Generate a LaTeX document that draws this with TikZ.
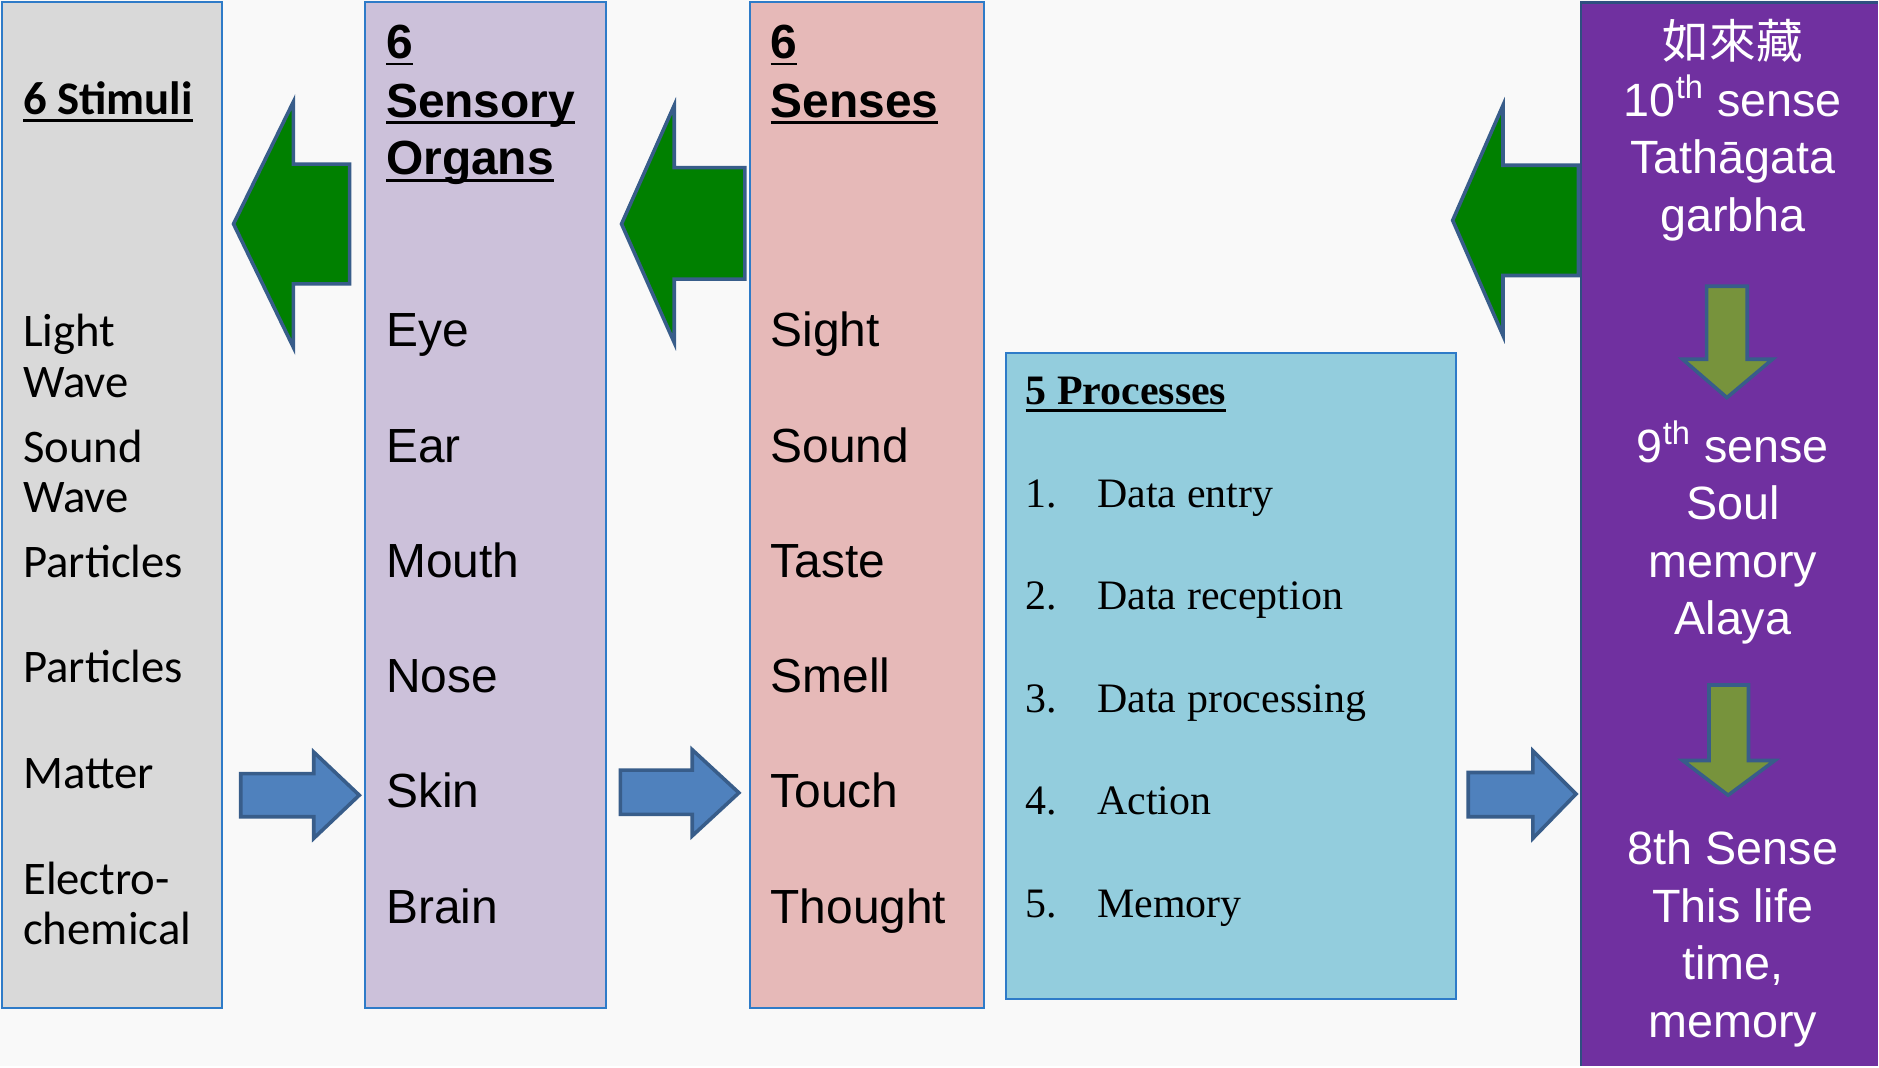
\documentclass[tikz,border=0pt]{standalone}
\usepackage{fontspec}
\usepackage{xcolor}
\setmainfont{Liberation Sans}
\newfontfamily\calibri{Carlito}
\newfontfamily\procfont{Liberation Serif}
\newfontfamily\cjk{Noto Sans CJK TC}

\definecolor{page}{HTML}{F9F9F9}
\definecolor{boxblue}{HTML}{2E7BC8}
\definecolor{stimgray}{HTML}{D9D9D9}
\definecolor{organlilac}{HTML}{CCC1DA}
\definecolor{sensepink}{HTML}{E6B9B8}
\definecolor{procblue}{HTML}{93CDDD}
\definecolor{mindpurple}{HTML}{7030A0}
\definecolor{purpleedge}{HTML}{2F4F80}
\definecolor{arrowedge}{HTML}{385D8A}
\definecolor{leftgreen}{HTML}{008000}
\definecolor{rightblue}{HTML}{4F81BD}
\definecolor{downolive}{HTML}{77933C}

% heading rule under a title line
\newcommand{\titleline}[1]{\setbox0=\hbox{#1}\rlap{\rule[-2.8pt]{\wd0}{1.1pt}}\box0}

\usetikzlibrary{positioning}

\begin{document}
\begin{tikzpicture}[x=0.5pt, y=-0.5pt, inner sep=0pt]
		\tikzstyle{every node}=[align=left, anchor=base west]
		\tikzstyle{column}=[draw=boxblue, line width=0.8pt]
		\tikzstyle{greenarrow}=[draw=arrowedge, fill=leftgreen, line width=1.5pt]
		\tikzstyle{bluearrow}=[draw=arrowedge, fill=rightblue, line width=1.5pt]
		\tikzstyle{downarrow}=[draw=arrowedge, fill=downolive, line width=1.5pt]
		\tikzstyle{calib}=[font=\calibri\fontsize{19.5}{21.5}\selectfont]
		\tikzstyle{arial}=[font=\fontsize{20}{24}\selectfont]
		\tikzstyle{roman}=[font=\procfont\fontsize{17.5}{21}\selectfont]
		\tikzstyle{purpletext}=[font=\fontsize{19.5}{24}\selectfont, text=white, anchor=base]

			\fill[page] (0,0) rectangle (1568,890);

			% the five columns
			\draw[column, fill=stimgray] (2,2) rectangle (185,842);
			\draw[column, fill=organlilac] (305,2) rectangle (506,842);
			\draw[column, fill=sensepink] (626,2) rectangle (822,842);
			\draw[column, fill=procblue] (840,295) rectangle (1216,834);
			\fill[mindpurple] (1320,2) rectangle (1568,890);
			\draw[purpleedge, line width=1pt] (1320,890) -- (1320,2) -- (1568,2);

			% stimuli
			\node[calib] (stimtitle) at (19,96) {\bfseries\titleline{6 Stimuli}};
			\foreach \y/\t [count=\i] in {289/Light, 332/Wave, 386/Sound, 428/Wave, 482/Particles, 570/Particles, 658/Matter, 747/Electro-, 789/chemical}
				\node[calib] (stim\i) at (19,\y) {\t};

			% sensory organs
			\node[arial] (organhead1) at (322,49) {\bfseries\titleline{6}};
			\node[arial] (organhead2) at (322,98) {\bfseries\titleline{Sensory}};
			\node[arial] (organhead3) at (322,146) {\bfseries\titleline{Organs}};
			\foreach \y/\t [count=\i] in {289/Eye, 386/Ear, 482/Mouth, 578/Nose, 674/Skin, 771/Brain}
				\node[arial] (organ\i) at (322,\y) {\t};

			% senses
			\node[arial] (sensehead1) at (643,49) {\bfseries\titleline{6}};
			\node[arial] (sensehead2) at (643,98) {\bfseries\titleline{Senses}};
			\foreach \y/\t [count=\i] in {289/Sight, 386/Sound, 482/Taste, 578/Smell, 674/Touch, 771/Thought}
				\node[arial] (sense\i) at (643,\y) {\t};

			% processes
			\node[roman] (proctitle) at (856,338) {\bfseries\titleline{5 Processes}};
			\foreach \y/\t [count=\i] in {424/Data entry, 509/Data reception, 595/Data processing, 680/Action, 766/Memory} {
				\node[roman] (num\i) at (856,\y) {\i.};
				\node[roman] (proc\i) at (916,\y) {\t};
			}

			% consciousness column
			\foreach \y/\t [count=\i] in {49/{\cjk 如來藏}, 97/{10\textsuperscript{th} sense}, 145/{Tathāgata}, 193/{garbha},
					386/{9\textsuperscript{th} sense}, 434/{Soul}, 482/{memory}, 530/{Alaya},
					722/{8th Sense}, 770/{This life}, 818/{time,}, 866/{memory}}
				\node[purpletext] (mind\i) at (1447,\y) {\t};

			% block arrows
			\draw[greenarrow] (292,137) -- (245,137) -- (245,85) -- (195,187) -- (245,290) -- (245,237) -- (292,237) -- cycle;
			\draw[greenarrow] (622,140) -- (563,140) -- (563,88) -- (519,187) -- (563,286) -- (563,233) -- (622,233) -- cycle;
			\draw[greenarrow] (1318,138) -- (1255,138) -- (1255,88) -- (1213,184) -- (1255,280) -- (1255,230) -- (1318,230) -- cycle;

			\draw[bluearrow] (201,646) -- (262,646) -- (262,628) -- (300,664) -- (262,700) -- (262,682) -- (201,682) -- cycle;
			\draw[bluearrow] (518,643) -- (578,643) -- (578,626) -- (617,662) -- (578,698) -- (578,680) -- (518,680) -- cycle;
			\draw[bluearrow] (1226,645) -- (1280,645) -- (1280,627) -- (1316,663) -- (1280,700) -- (1280,682) -- (1226,682) -- cycle;

			\draw[downarrow] (1425,239) -- (1459,239) -- (1459,300) -- (1480,300) -- (1442,332) -- (1405,300) -- (1425,300) -- cycle;
			\draw[downarrow] (1427,572) -- (1460,572) -- (1460,635) -- (1482,635) -- (1443,664) -- (1405,635) -- (1427,635) -- cycle;
		\end{tikzpicture}
\end{document}
